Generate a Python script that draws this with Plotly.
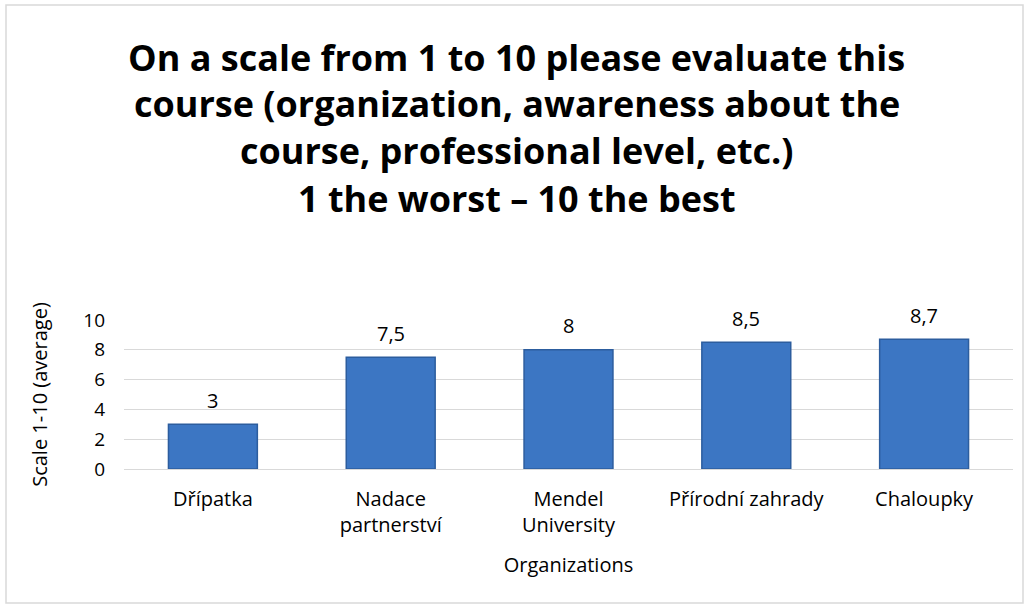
import plotly.graph_objects as go

# chart data
organizations = ["Dřípatka", "Nadace<br>partnerství", "Mendel<br>University",
                 "Přírodní zahrady", "Chaloupky"]
averages = [3, 7.5, 8, 8.5, 8.7]
value_labels = ["3", "7,5", "8", "8,5", "8,7"]
y_ticks = [0, 2, 4, 6, 8, 10]
title_lines = [
    "On a scale from 1 to 10 please evaluate this",
    "course (organization, awareness about the",
    "course, professional level, etc.)",
    "1 the worst – 10 the best",
]

FONT = "Open Sans"
W, H = 1029, 608
M = dict(l=124, r=16, t=320, b=139)

fig = go.Figure(
    go.Bar(
        x=organizations,
        y=averages,
        width=0.5,
        marker=dict(color="#3c76c3", line=dict(color="#2c5d9e", width=1.5)),
    )
)

# value labels sit a bit higher above the bars than plotly's outside text
for org, val, lab in zip(organizations, averages, value_labels):
    fig.add_annotation(
        x=org, y=val, text=lab,
        showarrow=False, yanchor="middle", yshift=24,
        font=dict(family=FONT, size=20, color="#000000"),
    )

# title lines placed one by one to match the line spacing
title_y = [57, 103, 150, 198]
pw = W - M["l"] - M["r"]
ph = H - M["t"] - M["b"]
for line, py in zip(title_lines, title_y):
    fig.add_annotation(
        text=f"<b>{line}</b>",
        x=(W / 2 + 2 - M["l"]) / pw,
        y=(H - M["b"] - py) / ph,
        xref="paper", yref="paper",
        xanchor="center", yanchor="middle",
        showarrow=False,
        font=dict(family=FONT, size=36, color="#000000"),
    )

# outer border of the chart area
fig.add_shape(
    type="rect", xref="paper", yref="paper",
    x0=(6 - M["l"]) / pw, x1=(1023 - M["l"]) / pw,
    y0=(H - M["b"] - 603) / ph, y1=(H - M["b"] - 5) / ph,
    line=dict(color="#d9d9d9", width=1.5),
    fillcolor="rgba(0,0,0,0)",
)

fig.update_layout(
    width=W, height=H,
    margin=M,
    paper_bgcolor="white",
    plot_bgcolor="white",
    showlegend=False,
    font=dict(family=FONT, size=20, color="#000000"),
)
fig.update_xaxes(
    title=dict(text="Organizations", font=dict(family=FONT, size=20), standoff=20),
    tickfont=dict(family=FONT, size=20),
    ticklabelstandoff=12,
    showline=True, linecolor="#d9d9d9", linewidth=1,
    ticks="", showgrid=False,
)
fig.update_yaxes(
    title=dict(text="Scale 1-10 (average)", font=dict(family=FONT, size=20), standoff=30),
    range=[0, 10],
    tickvals=y_ticks,
    tickfont=dict(family=FONT, size=19),
    ticklabelstandoff=18,
    showgrid=True, gridcolor="#d9d9d9", gridwidth=1,
    zeroline=False, ticks="",
)

fig.write_html(
    "out.html",
    config={"displayModeBar": False},
    post_script="document.body.style.margin='0';",
)
